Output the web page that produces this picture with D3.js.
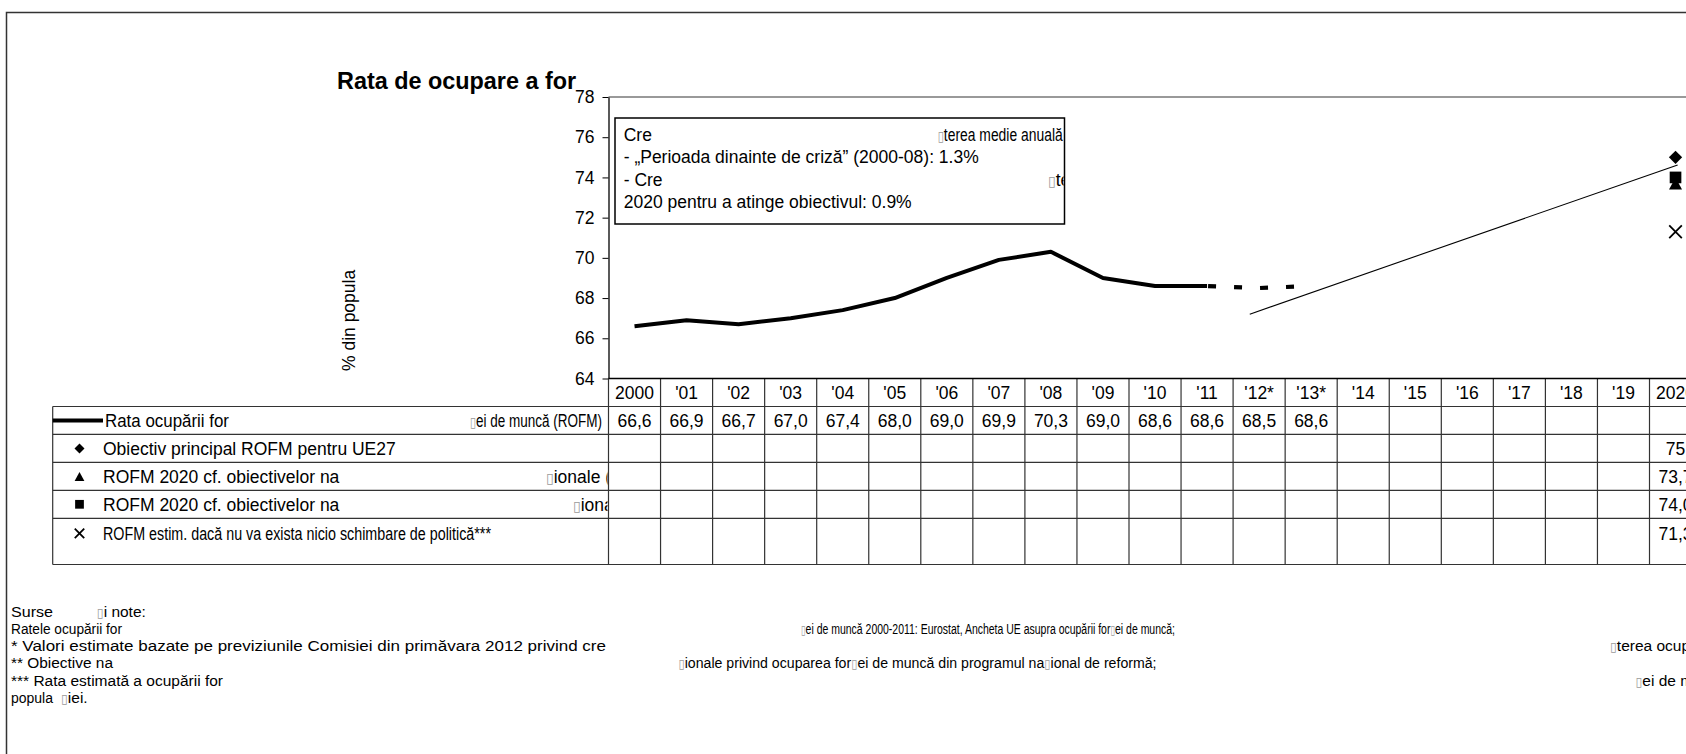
<!DOCTYPE html>
<html>
<head>
<meta charset="utf-8">
<script src="https://cdn.jsdelivr.net/npm/d3@7"></script>
<style>
  body { margin: 0; background: #fff; }
  svg { display: block; font-family: "Liberation Sans", Arial, sans-serif; }
</style>
</head>
<body>
<svg id="chart" width="1686" height="754"></svg>
<script>
// ---- data ----
const years = ["2000", "'01", "'02", "'03", "'04", "'05", "'06", "'07", "'08", "'09", "'10",
  "'11", "'12*", "'13*", "'14", "'15", "'16", "'17", "'18", "'19", "2020"];
const rofm = [66.6, 66.9, 66.7, 67.0, 67.4, 68.0, 69.0, 69.9, 70.3, 69.0, 68.6, 68.6, 68.5, 68.6];
const rofmLabels = ["66,6", "66,9", "66,7", "67,0", "67,4", "68,0", "69,0", "69,9", "70,3", "69,0",
  "68,6", "68,6", "68,5", "68,6"];
const lastActual = 11; // '11, after that estimates (dashed)

const markerTypes = ["diamond", "triangle", "square", "cross"];
const markerValues = [75, 73.7, 74.0, 71.3];
const markerLabels = ["75", "73,7", "74,0", "71,3"];

// thin line towards the 2020 target (year index, value)
const trendIdx = [11.82, 20.04];
const trendVal = [67.2, 74.62];

const yTicks = [64, 66, 68, 70, 72, 74, 76, 78];

const title = "Rata de ocupare a for";
const yTitle = "% din popula";

// "▯" = glyph missing in the source document
const boxLines = [
  ["Cre", "▯terea medie anuală"],
  ["- „Perioada dinainte de criză” (2000-08): 1.3%"],
  ["- Cre", "▯ter"],
  ["2020 pentru a atinge obiectivul: 0.9%"]
];
const legendLabels = [
  ["Rata ocupării for", "▯ei de muncă (ROFM)"],
  ["Obiectiv principal ROFM pentru UE27"],
  ["ROFM 2020 cf. obiectivelor na", "▯ionale (valoarea superioară)**"],
  ["ROFM 2020 cf. obiectivelor na", "▯ionale (valoarea inferioară)**"],
  ["ROFM estim. dacă nu va exista nicio schimbare de politică***"]
];
const notes = [
  ["Surse", "▯i note:"],
  ["Ratele ocupării for", "▯ei de muncă 2000-2011: Eurostat, Ancheta UE asupra ocupării for▯ei de muncă;"],
  ["* Valori estimate bazate pe previziunile Comisiei din primăvara 2012 privind cre", "▯terea ocupării"],
  ["** Obiective na", "▯ionale privind ocuparea for▯ei de muncă din programul na▯ional de reformă;"],
  ["*** Rata estimată a ocupării for", "▯ei de muncă"],
  ["popula", "▯iei."]
];

// ---- layout ----
const W = 1686, H = 754;
const x0 = 608.5, colW = 52.05;
const plotTop = 97, plotBottom = 378.5;
const rowEdges = [378.5, 406.5, 434.4, 462.4, 490.3, 518.3, 564.5];
const rowText = [392.5, 420.4, 448.4, 476.4, 504.3, 533.3];
const tableLeft = 52.7;
const fs = 17.5;

// text runs sit where the source document put them; widths (null = natural)
const boxX = [615, 1064.5], boxY = [118, 224];
const boxSegX = [[623.7, 937.7], [623.7], [623.7, 1048], [623.7]];
const boxSegW = [[null, 125], [null], [null, null], [null]];
const boxBase = [140.5, 163, 185.5, 208];
const legendSegX = [[105, 470], [103], [103, 546], [103, 573], [103]];
const legendSegW = [[124, 132], [null], [null, null], [null, null], [388]];
const noteSegX = [[11, 96.8], [11, 801], [11, 1610], [11, 678.5], [11, 1635.5], [11, 61]];
const noteSegW = [[42, null], [111, 374], [595, null], [102, 478], [212, null], [42, null]];
const noteBase = [617, 634, 651, 668, 686, 703];

const svg = d3.select("#chart");

const x = d3.scaleBand().domain(years).range([x0, x0 + years.length * colW]);
const xIdx = d3.scaleLinear().domain([-0.5, years.length - 0.5]).range(x.range());
const y = d3.scaleLinear().domain([64, 78]).range([plotBottom, plotTop]);

const defs = svg.append("defs");
defs.append("clipPath").attr("id", "clip-box").append("rect")
  .attr("x", boxX[0]).attr("y", boxY[0]).attr("width", boxX[1] - boxX[0] - 1).attr("height", boxY[1] - boxY[0]);
defs.append("clipPath").attr("id", "clip-legend").append("rect")
  .attr("x", 0).attr("y", 0).attr("width", x0 - 1).attr("height", H);

// write a run, drawing the missing glyph boxes in grey
function addText(sel, str, w) {
  str.split(/(▯)/).filter(s => s.length).forEach(s => {
    const t = sel.append("tspan").text(s);
    if (s === "▯") t.attr("fill", "#9a9a9a").style("font-family", "DejaVu Sans").style("font-size", "0.8em");
  });
  if (w) sel.attr("textLength", w).attr("lengthAdjust", "spacingAndGlyphs");
}

// outer frame
svg.append("path")
  .attr("d", `M6.5,${H}V12.5H${W}`)
  .attr("fill", "none").attr("stroke", "#333").attr("stroke-width", 1.5);

// title
svg.append("text")
  .attr("x", 337).attr("y", 88.5)
  .style("font-size", "23.4px").style("font-weight", "bold")
  .text(title);

// plot area top border
svg.append("line")
  .attr("x1", x0).attr("x2", W).attr("y1", y(78)).attr("y2", y(78))
  .attr("stroke", "#999").attr("stroke-width", 2);

// y axis
const yAxis = svg.append("g")
  .attr("transform", `translate(${x0},0)`)
  .call(d3.axisLeft(y).tickValues(yTicks).tickSize(6).tickSizeOuter(0).tickPadding(8).tickFormat(d3.format("d")));
yAxis.select(".domain").attr("stroke", "#000").attr("stroke-width", 1.3);
yAxis.selectAll(".tick line").attr("stroke", "#000");
yAxis.selectAll(".tick text")
  .attr("fill", "#000")
  .style("font-family", '"Liberation Sans", Arial, sans-serif')
  .style("font-size", fs + "px");

svg.append("text")
  .attr("transform", "translate(355,371) rotate(-90)")
  .style("font-size", fs + "px")
  .text(yTitle);

// text box
svg.append("rect")
  .attr("x", boxX[0]).attr("y", boxY[0])
  .attr("width", boxX[1] - boxX[0]).attr("height", boxY[1] - boxY[0])
  .attr("fill", "#fff").attr("stroke", "#000").attr("stroke-width", 1.5);
const boxG = svg.append("g").attr("clip-path", "url(#clip-box)").style("font-size", fs + "px");
boxLines.forEach((parts, i) => {
  parts.forEach((p, j) => {
    addText(boxG.append("text").attr("x", boxSegX[i][j]).attr("y", boxBase[i]), p, boxSegW[i][j]);
  });
});

// series
const pts = rofm.map((v, i) => [x(years[i]) + x.bandwidth() / 2, y(v)]);
const line = d3.line();
svg.append("path")
  .attr("d", line(pts.slice(0, lastActual + 1)))
  .attr("fill", "none").attr("stroke", "#000").attr("stroke-width", 4)
  .attr("stroke-linejoin", "round");
svg.append("path")
  .attr("d", line(pts.slice(lastActual)))
  .attr("fill", "none").attr("stroke", "#000").attr("stroke-width", 4.2)
  .attr("stroke-dasharray", "8 18").attr("stroke-dashoffset", -1);

svg.append("path")
  .attr("d", line(trendIdx.map((t, i) => [xIdx(t), y(trendVal[i])])))
  .attr("fill", "none").attr("stroke", "#000").attr("stroke-width", 1.1);

// markers
function marker(sel, type, cx, cy, big) {
  const k = big ? 1 : 0.75;
  if (type === "diamond") {
    sel.append("path").attr("d", d3.symbol(d3.symbolSquare, 88 * k * k)())
      .attr("transform", `translate(${cx},${cy}) rotate(45)`);
  } else if (type === "triangle") {
    const hw = 6.5 * k, hh = 6 * k;
    sel.append("path").attr("d", `M0,${-hh}L${hw},${hh}L${-hw},${hh}Z`)
      .attr("transform", `translate(${cx},${cy})`);
  } else if (type === "square") {
    sel.append("path").attr("d", d3.symbol(d3.symbolSquare, 136 * k * k)())
      .attr("transform", `translate(${cx},${cy})`);
  } else {
    const h = 6.3 * k;
    sel.append("path").attr("d", `M${-h},${-h}L${h},${h}M${-h},${h}L${h},${-h}`)
      .attr("transform", `translate(${cx},${cy})`)
      .attr("fill", "none").attr("stroke", "#000").attr("stroke-width", 1.8);
  }
}
const mg = svg.append("g").attr("fill", "#000");
const xLast = x(years[years.length - 1]) + x.bandwidth() / 2;
// draw so that the square sits over the triangle
[3, 1, 2, 0].forEach(i => marker(mg, markerTypes[i], xLast, y(markerValues[i]), true));

// data table
const tg = svg.append("g").attr("stroke", "#333").attr("stroke-width", 1.2);
rowEdges.slice(1).forEach(ry => {
  tg.append("line").attr("x1", tableLeft).attr("x2", W).attr("y1", ry).attr("y2", ry);
});
tg.append("line").attr("x1", tableLeft).attr("x2", tableLeft)
  .attr("y1", rowEdges[1]).attr("y2", rowEdges[rowEdges.length - 1]);
years.forEach(yr => {
  const bx = x(yr);
  tg.append("line").attr("x1", bx).attr("x2", bx).attr("y1", rowEdges[0]).attr("y2", rowEdges[rowEdges.length - 1]);
});
// x axis line / table top
svg.append("line").attr("x1", x0).attr("x2", W).attr("y1", plotBottom).attr("y2", plotBottom)
  .attr("stroke", "#000").attr("stroke-width", 1.5);

const cellG = svg.append("g").attr("text-anchor", "middle").style("font-size", fs + "px");
cellG.selectAll("text.hdr").data(years).join("text")
  .attr("class", "hdr")
  .attr("x", d => x(d) + x.bandwidth() / 2)
  .attr("y", rowText[0]).attr("dy", "0.36em")
  .text(d => d);
cellG.selectAll("text.val").data(rofmLabels).join("text")
  .attr("class", "val")
  .attr("x", (d, i) => x(years[i]) + x.bandwidth() / 2)
  .attr("y", rowText[1]).attr("dy", "0.36em")
  .text(d => d);
cellG.selectAll("text.tgt").data(markerLabels).join("text")
  .attr("class", "tgt")
  .attr("x", xLast)
  .attr("y", (d, i) => rowText[i + 2]).attr("dy", "0.36em")
  .text(d => d);

// legend column
const lg = svg.append("g").attr("clip-path", "url(#clip-legend)").style("font-size", fs + "px");
lg.append("line").attr("x1", tableLeft).attr("x2", 103).attr("y1", rowText[1]).attr("y2", rowText[1])
  .attr("stroke", "#000").attr("stroke-width", 4);
markerTypes.forEach((t, i) => marker(lg.append("g").attr("fill", "#000"), t, 79.5, rowText[i + 2], false));
legendLabels.forEach((parts, i) => {
  parts.forEach((p, j) => {
    addText(lg.append("text").attr("x", legendSegX[i][j]).attr("y", rowText[i + 1]).attr("dy", "0.36em"),
      p, legendSegW[i][j]);
  });
});

// notes
const ng = svg.append("g").style("font-size", "15.5px");
notes.forEach((parts, i) => {
  parts.forEach((p, j) => {
    addText(ng.append("text").attr("x", noteSegX[i][j]).attr("y", noteBase[i]), p, noteSegW[i][j]);
  });
});
</script>
</body>
</html>
